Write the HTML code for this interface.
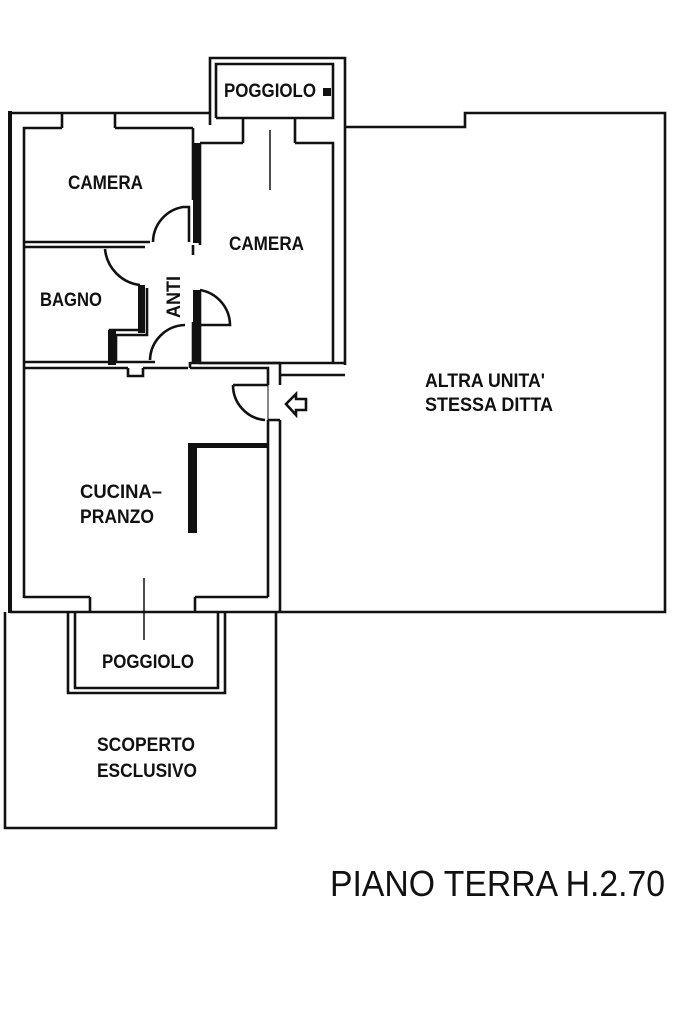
<!DOCTYPE html>
<html><head><meta charset="utf-8"><style>
html,body{margin:0;padding:0;background:#fff;}
svg{display:block;}
text{font-family:"Liberation Sans",sans-serif;fill:#111;font-weight:bold;}
</style></head><body>
<svg width="683" height="1024" viewBox="0 0 683 1024" xmlns="http://www.w3.org/2000/svg">
<g fill="none" stroke="#111" stroke-width="2.6">
<path d="M10 612 V113 H210"/>
<path d="M24 598 V128 H62 M115 128 H193"/>
<path d="M62 113 V128 M115 113 V128"/>
<path d="M210 125 V58 H345 V365"/>
<path d="M216 118 V64 H333 V118 H216"/>
<path d="M243 118 V143 M295 118 V143"/>
<path d="M200 143 H243 M295 143 H333 V363"/>
<path d="M193 128 V200 M200 143 V245 M193 245 V255"/>
<path d="M200 290 V363 H345"/>
<path d="M193 322 V363"/>
<path d="M25 242 H150 M25 247 H145"/>
<path d="M142 288 V330 H110 V360 M147 288 V335 H116 V362"/>
<path d="M25 362 H155 M25 368 H128 M143 368 H188 M190 362 V368"/>
<path d="M128 368 V376 H143 V368"/>
<path d="M153 242 A36 36 0 0 1 183 207 L189 207 V242"/>
<path d="M105 249 A40 40 0 0 0 140 285"/>
<path d="M200 290 A36 36 0 0 1 230 325 L200 325"/>
<path d="M150 360 A36 36 0 0 1 185 325"/>
<path d="M190 368 H268 V385 M190 363 H280"/>
<path d="M280 363 V385 M280 385 V375 H345"/>
<path d="M268 420 V597 M280 420 V612 M268 420 H280"/>
<path d="M233 385 H268 M233 385 A35 35 0 0 0 265 420"/>
<path d="M268 385 V420" stroke-width="1"/>
<path d="M24 597 H90 M195 597 H268"/>
<path d="M90 597 V612 M195 597 V612"/>
<path d="M10 612 H665 V113 H465 V127 H345"/>
<path d="M68 612 V693 H225 V612"/>
<path d="M75 612 V688 H218 V612"/>
<path d="M5 612 V828 H276 V612"/>
<path d="M270 130 V190 M144 578 V640" stroke-width="1.5"/>
<path d="M286 404 L296 394 V399 H306 V410 H296 V415 Z"/>
</g>
<g fill="#111">
<rect x="188" y="443" width="80" height="5"/>
<rect x="188" y="443" width="9" height="90"/>
<rect x="193" y="143" width="8" height="100"/>
<rect x="193" y="290" width="7" height="73"/>
<rect x="8" y="111" width="4" height="502"/>
<rect x="138" y="285" width="7" height="48"/>
<rect x="108" y="330" width="8" height="35"/>
<rect x="323" y="88" width="8" height="8"/>
</g>
<g font-size="19" lengthAdjust="spacingAndGlyphs">
<text x="68" y="189" textLength="75" lengthAdjust="spacingAndGlyphs">CAMERA</text>
<text x="229" y="250" textLength="75" lengthAdjust="spacingAndGlyphs">CAMERA</text>
<text x="40" y="306" textLength="62" lengthAdjust="spacingAndGlyphs">BAGNO</text>
<text x="0" y="0" transform="translate(180,318) rotate(-90)" textLength="42" lengthAdjust="spacingAndGlyphs">ANTI</text>
<text x="224" y="97" textLength="92" lengthAdjust="spacingAndGlyphs">POGGIOLO</text>
<text x="80" y="498" textLength="82" lengthAdjust="spacingAndGlyphs">CUCINA–</text>
<text x="80" y="523" textLength="74" lengthAdjust="spacingAndGlyphs">PRANZO</text>
<text x="102" y="668" textLength="92" lengthAdjust="spacingAndGlyphs">POGGIOLO</text>
<text x="97" y="751" textLength="98" lengthAdjust="spacingAndGlyphs">SCOPERTO</text>
<text x="97" y="777" textLength="100" lengthAdjust="spacingAndGlyphs">ESCLUSIVO</text>
<text x="425" y="387" textLength="120" lengthAdjust="spacingAndGlyphs">ALTRA UNITA'</text>
<text x="425" y="411" textLength="128" lengthAdjust="spacingAndGlyphs">STESSA DITTA</text>
</g>
<text x="330" y="896" font-size="36" style="font-weight:normal" textLength="335" lengthAdjust="spacingAndGlyphs">PIANO TERRA H.2.70</text>
</svg>
</body></html>
